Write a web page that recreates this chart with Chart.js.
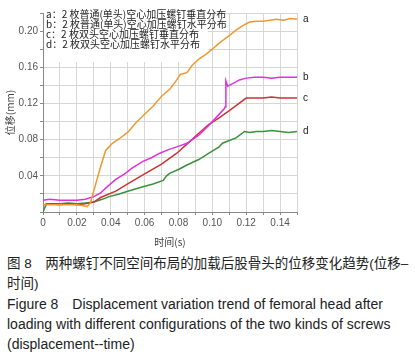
<!DOCTYPE html>
<html>
<head>
<meta charset="utf-8">
<script src="https://cdn.jsdelivr.net/npm/chart.js@4.4.1/dist/chart.umd.min.js"></script>
<style>
body{margin:0;background:#fff;width:415px;height:358px;overflow:hidden;position:relative;}
#wrap{position:absolute;left:0;top:0;width:415px;height:248px;}
#cap{position:absolute;left:7px;top:254px;font-family:"Liberation Sans","Noto Sans CJK SC",sans-serif;font-size:13.5px;line-height:20px;color:#222;white-space:nowrap;}
#cap .en{font-size:14px;}
</style>
</head>
<body>
<div id="wrap"><canvas id="chart" width="415" height="248"></canvas></div>
<div id="cap">
<div>图 8　两种螺钉不同空间布局的加载后股骨头的位移变化趋势(位移–</div>
<div>时间)</div>
<div class="en">Figure 8　Displacement variation trend of femoral head after</div>
<div class="en">loading with different configurations of the two kinds of screws</div>
<div class="en">(displacement--time)</div>
</div>
<script>
// ======================================
// DATA
// ======================================

const legendLines = [
"a：2 枚普通(单头)空心加压螺钉垂直分布",
"b：2 枚普通(单头)空心加压螺钉水平分布",
"c：2 枚双头空心加压螺钉垂直分布",
"d：2 枚双头空心加压螺钉水平分布"
];

const endLabels = ["a","b","c","d"];

const aX = [0,0.005,0.01,0.015,0.02,0.024,0.026,0.028,0.031,0.034,0.037,0.039,0.041,0.045,0.05,0.055,0.06,0.065,0.07,0.075,0.079,0.081,0.085,0.088,0.092,0.096,0.1,0.105,0.11,0.114,0.118,0.122,0.126,0.13,0.134,0.138,0.142,0.146,0.15];
const aY = [0.008,0.008,0.008,0.008,0.008,0.007,0.006,0.010,0.030,0.050,0.068,0.072,0.076,0.081,0.088,0.099,0.108,0.117,0.128,0.136,0.146,0.152,0.154,0.162,0.169,0.174,0.180,0.188,0.195,0.201,0.206,0.210,0.211,0.211,0.212,0.213,0.212,0.214,0.213];

const bX = [0,0.004,0.01,0.015,0.02,0.025,0.03,0.034,0.038,0.043,0.048,0.053,0.059,0.064,0.069,0.074,0.079,0.085,0.092,0.098,0.103,0.107,0.1075,0.108,0.109,0.112,0.116,0.12,0.125,0.13,0.135,0.14,0.145,0.15];
const bY = [0.013,0.014,0.013,0.013,0.013,0.014,0.017,0.021,0.028,0.036,0.042,0.049,0.056,0.060,0.065,0.069,0.072,0.076,0.085,0.096,0.106,0.114,0.116,0.145,0.139,0.142,0.146,0.148,0.149,0.149,0.148,0.149,0.149,0.149];

const cX = [0,0.005,0.01,0.015,0.02,0.025,0.03,0.034,0.043,0.05,0.059,0.07,0.079,0.085,0.092,0.098,0.104,0.11,0.115,0.12,0.125,0.13,0.135,0.14,0.145,0.15];
const cY = [0.008,0.009,0.008,0.009,0.008,0.009,0.011,0.016,0.023,0.031,0.041,0.053,0.065,0.075,0.087,0.097,0.104,0.112,0.119,0.126,0.126,0.126,0.127,0.126,0.126,0.126];

const dX = [0,0.002,0.005,0.01,0.015,0.02,0.025,0.03,0.035,0.039,0.045,0.05,0.059,0.065,0.071,0.073,0.075,0.08,0.085,0.092,0.098,0.104,0.106,0.11,0.114,0.119,0.122,0.126,0.13,0.135,0.14,0.145,0.15];
const dY = [0.0,0.009,0.009,0.009,0.010,0.009,0.010,0.011,0.014,0.017,0.020,0.023,0.028,0.031,0.035,0.040,0.043,0.047,0.052,0.058,0.065,0.072,0.076,0.079,0.082,0.089,0.088,0.089,0.089,0.090,0.089,0.088,0.089];

const pts = (xs, ys) => xs.map((x, i) => ({x: x, y: ys[i]}));

// ======================================
// PLUGINS
// ======================================

const legendBox = {
id: "legendBox",
beforeDatasetsDraw(chart) {
const c = chart.ctx;
c.save();
c.fillStyle = "#fff";
c.fillRect(chart.chartArea.left + 1, 8, 164, 54);
c.restore();
},
afterDraw(chart) {
const c = chart.ctx;
c.save();
c.font = "10px 'Noto Sans CJK SC'";
c.fillStyle = "#222";
c.textBaseline = "middle";
legendLines.forEach((t, i) => {
c.fillText(t, chart.chartArea.left + 3, 14 + i * 10);
});
// end labels
c.font = "10px 'Liberation Sans'";
chart.data.datasets.forEach((ds, i) => {
const meta = chart.getDatasetMeta(i);
const p = meta.data[meta.data.length - 1];
c.fillText(endLabels[i], p.x + 6, p.y);
});
c.restore();
}
};

// ======================================
// CHART
// ======================================

const ds = (d, color) => ({
data: d,
borderColor: color,
borderWidth: 1.5,
pointRadius: 0,
tension: 0,
fill: false
});

new Chart(document.getElementById("chart"), {
type: "line",
data: {
datasets: [
ds(pts(aX, aY), "#EE9A30"),
ds(pts(bX, bY), "#E030E0"),
ds(pts(cX, cY), "#C83434"),
ds(pts(dX, dY), "#3A923A")
]
},
options: {
responsive: false,
animation: false,
layout: {padding: {left: 0, right: 118, top: 13, bottom: 0}},
plugins: {legend: {display: false}, tooltip: {enabled: false}},
scales: {
x: {
type: "linear",
min: 0,
max: 0.15,
afterFit: s => { s.height = 36; },
ticks: {
stepSize: 0.01,
autoSkip: false,
maxRotation: 0,
color: "#555",
font: {family: "Liberation Sans", size: 10},
padding: 2,
callback: (v, i) => i % 2 === 0 ? (v === 0 ? "0" : v.toFixed(2)) : ""
},
grid: {color: "#d6d6d6", tickLength: 3, tickColor: "#888"},
border: {color: "#888"},
title: {
display: true,
text: "时间(s)",
color: "#444",
font: {family: "Noto Sans CJK SC", size: 10},
padding: {top: 2, bottom: 0}
}
},
y: {
min: 0,
max: 0.22,
afterFit: s => { s.width = 43; },
ticks: {
stepSize: 0.02,
autoSkip: false,
color: "#555",
font: {family: "Liberation Sans", size: 10},
padding: 2,
callback: (v) => {
const k = Math.round(v * 100);
return (k > 0 && k % 4 === 0) ? v.toFixed(2) : "";
}
},
grid: {color: "#d6d6d6", tickLength: 3, tickColor: "#888"},
border: {color: "#888"},
title: {
display: true,
text: "位移(mm)",
color: "#444",
font: {family: "Noto Sans CJK SC", size: 10},
padding: {top: 4, bottom: 0}
}
}
}
},
plugins: [legendBox]
});
</script>
</body>
</html>
